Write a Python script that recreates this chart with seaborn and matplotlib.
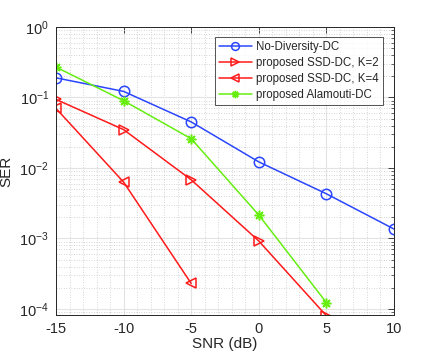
import matplotlib
matplotlib.use("Agg")
import matplotlib.pyplot as plt
import seaborn as sns
import numpy as np
import pandas as pd
from matplotlib.ticker import LogLocator, FixedLocator

sns.set_style("white")
plt.rcParams['font.family'] = ['Liberation Sans', 'DejaVu Sans']
plt.rcParams['mathtext.fontset'] = 'custom'
plt.rcParams['mathtext.rm'] = 'Liberation Sans'
plt.rcParams['mathtext.it'] = 'Liberation Sans'

snr_nodiv = [-15, -10, -5, 0, 5, 10]
ser_nodiv = [0.19, 0.122, 0.045, 0.0122, 0.0043, 0.00136]
snr_k2 = [-15, -10, -5, 0, 5]
ser_k2 = [0.094, 0.035, 0.0068, 0.00092, 0.00008]
snr_k4 = [-15, -10, -5]
ser_k4 = [0.070, 0.0063, 0.00023]
snr_ala = [-15, -10, -5, 0, 5]
ser_ala = [0.27, 0.09, 0.026, 0.00215, 0.000123]

labels = ["No-Diversity-DC", "proposed SSD-DC, K=2", "proposed SSD-DC, K=4", "proposed Alamouti-DC"]
colors = ["#2a46ff", "#ff1a1a", "#ff1a1a", "#66ee11"]
markers = ["o", ">", "<", (8, 2, 0)]

fig = plt.figure(figsize=(4.36, 3.55), dpi=100)
ax = fig.add_axes([56/436, 1-315/355, (394-56)/436, (315-27)/355])

series = [(snr_nodiv, ser_nodiv), (snr_k2, ser_k2), (snr_k4, ser_k4), (snr_ala, ser_ala)]
for (x, y), lab, c, m in zip(series, labels, colors, markers):
    df = pd.DataFrame({"SNR": x, "SER": y})
    sns.lineplot(data=df, x="SNR", y="SER", ax=ax, color=c, marker=m,
                 markersize=7.5 if isinstance(m, str) else 7,
                 markerfacecolor="none",
                 markeredgecolor=c, markeredgewidth=1.1, linewidth=1.1, label=lab)

ax.set_yscale("log")
ax.set_xlim(-15, 10)
ax.set_ylim(10**-4.086, 1)
ax.set_xticks([-15, -10, -5, 0, 5, 10])
ax.set_xticklabels(["-15", "-10", "-5", "0", "5", "10"])
ax.yaxis.set_major_locator(FixedLocator([1e-4, 1e-3, 1e-2, 1e-1, 1]))
ax.yaxis.set_minor_locator(LogLocator(base=10, subs=np.arange(2, 10), numticks=20))
ax.xaxis.set_minor_locator(FixedLocator(np.arange(-15, 10.1, 1.0)))

ax.grid(True, which="major", color="#e3e3e3", linewidth=0.8, linestyle="-")
ax.grid(True, which="minor", color="#c8c8c8", linewidth=0.6, linestyle=(0, (1, 2)))
ax.set_axisbelow(True)

ax.tick_params(which="both", direction="in", top=True, right=True, labelsize=10.5, colors="#262626")
ax.tick_params(which="major", length=4, width=0.6)
ax.tick_params(which="minor", length=2, width=0.5)
ax.tick_params(axis="x", which="minor", length=0)
ax.tick_params(axis="x", which="major", pad=5)
ax.tick_params(axis="y", which="major", pad=5)
for s in ax.spines.values():
    s.set_color("#262626")
    s.set_linewidth(0.7)

ax.set_xlabel("SNR (dB)", fontsize=11, color="#262626", labelpad=1)
ax.set_ylabel("SER", fontsize=11, color="#262626", labelpad=4)

leg = ax.legend(loc="upper right", bbox_to_anchor=(383/436, 1 - 37/355), bbox_transform=fig.transFigure,
                fontsize=8.3, frameon=True, fancybox=False, edgecolor="#262626",
                borderpad=0.35, labelspacing=0.35, handlelength=2.8, handletextpad=0.4,
                borderaxespad=0, markerscale=0.75)
leg.get_frame().set_linewidth(0.7)

fig.savefig("out.png", dpi=100)
